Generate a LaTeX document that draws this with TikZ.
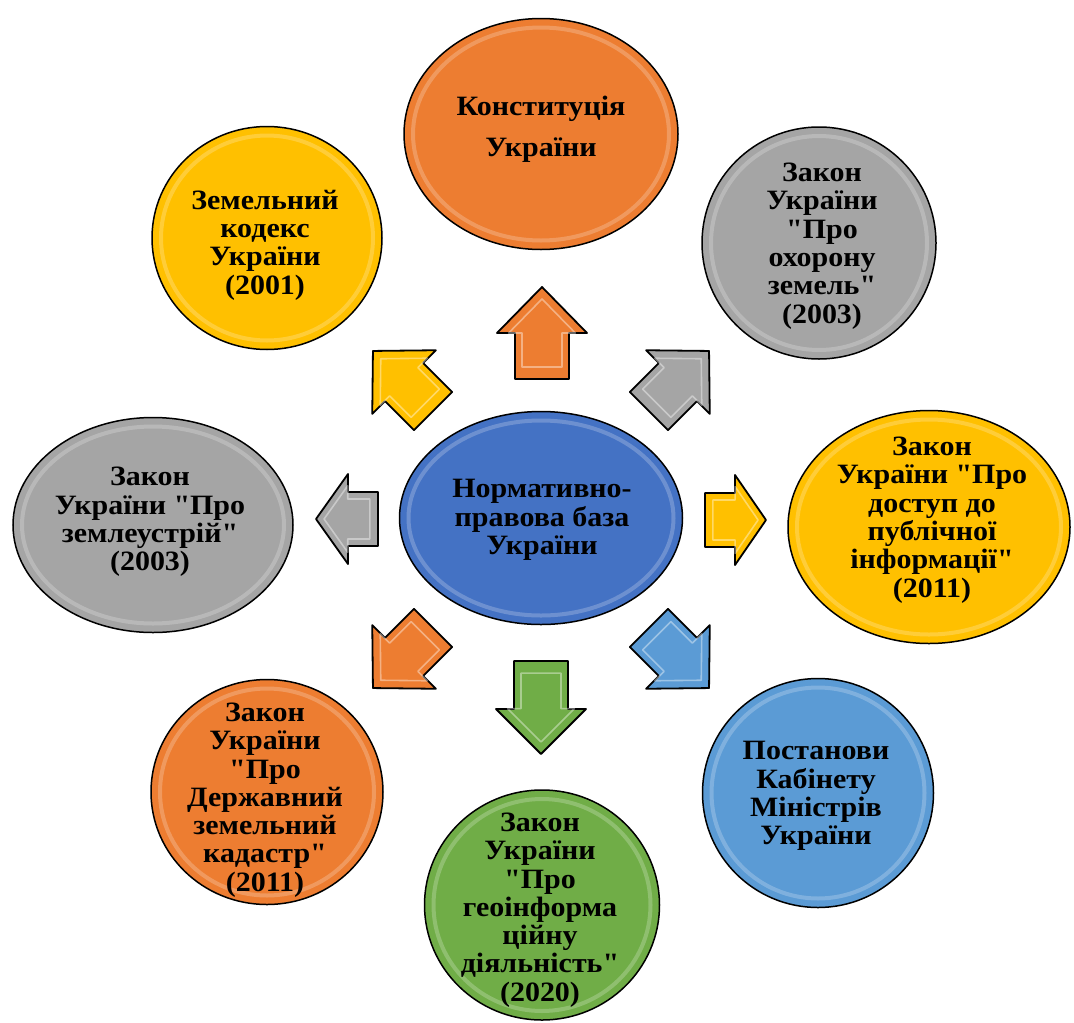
\documentclass[tikz,border=0pt]{standalone}
\usepackage{fontspec}
\setmainfont{Liberation Serif}[Ligatures=TeXOff, FakeStretch=1.07]
\usetikzlibrary{shapes.geometric}
\definecolor{cOrange}{HTML}{ED7D31}
\definecolor{cGray}{HTML}{A5A5A5}
\definecolor{cYellow}{HTML}{FFC000}
\definecolor{cBlue}{HTML}{4472C4}
\definecolor{cLBlue}{HTML}{5B9BD5}
\definecolor{cGreen}{HTML}{70AD47}
\tikzset{
  bubblebox/.style={ellipse, draw=black, line width=1.5pt, inner sep=0pt},
  bubgloss/.style={draw=white, line width=4pt, opacity=0.22},
  bubtext/.style={align=center, inner sep=0pt, text=black,
    font=\bfseries\fontsize{28}{28.3}\selectfont},
  arrowbox/.style={draw=black, line width=1.8pt, line join=round},
  arrowgloss/.style={draw=white, line width=1.6pt, opacity=0.4, line join=round},
}
\newcommand\myBubble[6]{%
  \node[bubblebox, fill=#6, minimum width=#4pt, minimum height=#5pt] (#1) at (#2,#3) {};
  \pgfmathsetmacro\myrx{#4/2-9}\pgfmathsetmacro\myry{#5/2-9}%
  \draw[bubgloss] (#1.center) ellipse [x radius=\myrx pt, y radius=\myry pt];
}
\newcommand\myArrow[7]{%
  \begin{scope}[shift={(#2,#3)}, rotate=#4]
    \coordinate (#1) at (0,0);
    \draw[arrowbox, fill=#7] ({-#5/2},-27) -- ({#5/2-#6},-27) -- ({#5/2-#6},-45) -- ({#5/2},0)
      -- ({#5/2-#6},45) -- ({#5/2-#6},27) -- ({-#5/2},27) -- cycle;
    \draw[arrowgloss, scale=0.74] ({-#5/2},-27) -- ({#5/2-#6},-27) -- ({#5/2-#6},-45) -- ({#5/2},0)
      -- ({#5/2-#6},45) -- ({#5/2-#6},27) -- ({-#5/2},27) -- cycle;
  \end{scope}}
\begin{document}
\begin{tikzpicture}[x=1pt,y=-1pt]
\useasboundingbox (0,0) rectangle (1074,1023);
% circles
\myBubble{konst}{541}{134}{274}{231}{cOrange}
\myBubble{zemkod}{267}{238}{230}{223}{cYellow}
\myBubble{ohorona}{819}{243}{234}{232}{cGray}
\myBubble{zemleustr}{153}{525}{280}{215}{cGray}
\myBubble{dostup}{929}{527}{282}{233}{cYellow}
\myBubble{kadastr}{267}{792}{232}{225}{cOrange}
\myBubble{geo}{542}{905}{235}{230}{cGreen}
\myBubble{postanovy}{818}{793}{231}{229}{cLBlue}
\myBubble{baza}{541}{518}{283}{213}{cBlue}
% texts
\node[bubtext, font=\bfseries\fontsize{28}{41}\selectfont] (tkonst) at (541,129) {Конституція\\України};
\node[bubtext] (tzemkod) at (265,245) {Земельний\\кодекс\\України\\(2001)};
\node[bubtext] (tohorona) at (822,246) {Закон\\України\\"Про\\охорону\\земель"\\(2003)};
\node[bubtext] (tzemleustr) at (150,522) {Закон\\України "Про\\землеустрій"\\(2003)};
\node[bubtext] (tdostup) at (932,520) {Закон\\України "Про\\доступ до\\публічної\\інформації"\\(2011)};
\node[bubtext] (tkadastr) at (265,800) {Закон\\України\\"Про\\Державний\\земельний\\кадастр"\\(2011)};
\node[bubtext] (tgeo) at (540,910) {Закон\\України\\"Про\\геоінформа\\ційну\\діяльність"\\(2020)};
\node[bubtext] (tpostanovy) at (816,796) {Постанови\\Кабінету\\Міністрів\\України};
\node[bubtext] (tbaza) at (542,520) {Нормативно-\\правова база\\України};
% arrows
\myArrow{aup}{542}{333}{90}{92}{46}{cOrange}
\myArrow{ane}{679}{381}{45}{85}{44}{cGray}
\myArrow{aright}{735.5}{520}{0}{61}{31}{cYellow}
\myArrow{ase}{679}{658}{-45}{85}{44}{cLBlue}
\myArrow{adown}{541}{707.5}{-90}{93}{45}{cGreen}
\myArrow{asw}{403}{658}{-135}{85}{44}{cOrange}
\myArrow{aleft}{347}{519}{180}{62}{32}{cGray}
\myArrow{anw}{403}{381}{135}{85}{44}{cYellow}
\end{tikzpicture}
\end{document}
